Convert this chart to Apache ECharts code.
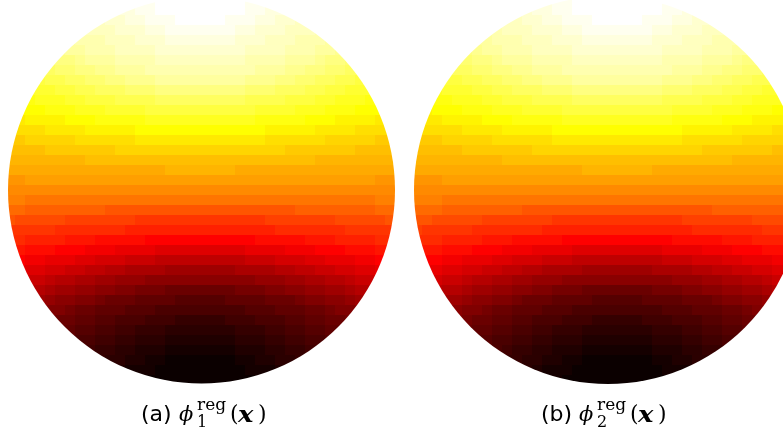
<!DOCTYPE html>
<html><head><meta charset="utf-8">
<script src="https://cdn.jsdelivr.net/npm/echarts@6/dist/echarts.min.js"></script>
<style>html,body{margin:0;padding:0;background:#fff}#c{width:783px;height:434px}</style>
</head><body><div id="c"></div>
<script>
// colour-level alphabet: index 0..63 of the 64-step "hot" colormap
const LEVELS = '0123456789abcdefghijklmnopqrstuvwxyzABCDEFGHIJKLMNOPQRSTUVWXYZ+*';

// panel labels
const panelTags = ['(a)', '(b)'];
const phiSubscripts = ['1', '2'];
const phiSuperscript = 'reg';

// field (a): one string per grid row (top to bottom), one char per cell, '.' = outside
const fieldA = [
".............++*********++.............",
"...........ZZ++*********++ZZ...........",
".........XYYZZ+++*****+++ZZYYX.........",
"........XXXYYYZZ+++++++ZZYYYXXXW.......",
"......VWWWXXXYYYZZZZZZZYYYXXXWWWV......",
".....UVVWWWXXXXYYYYYYYYYXXXXWWWVVU.....",
"....STTUVVVWWWWXXXXXXXXXWWWWVVVUTTS....",
"....RSSTTUUVVVWWWWWWWWWWWVVVUUTTSSRR...",
"...PQQRRSSTTUUUVVVVVVVVVUUUTTSSRRQQP...",
"..OOOPPQQRRRSSSTTTTTTTTTSSSRRRQQPPOOO..",
"..MNNNOOPPPQQQQRRRRRRRRRQQQQPPPOONNNMM.",
".LLLMMMNNNOOOOPPPPPPPPPPPOOOONNNMMMLLL.",
".JKKKKLLLMMMMMNNNNNNNNNNNMMMMMLLLKKKKJ.",
".IIIJJJJKKKKKLLLLLLLLLLLLLKKKKKJJJJIIII",
"GGHHHHHIIIIIIJJJJJJJJJJJJJIIIIIIHHHHHGG",
"FFFFGGGGGGGHHHHHHHHHHHHHHHHHGGGGGGGFFFF",
"EEEEEEEEFFFFFFFFFFFFFFFFFFFFFFFEEEEEEEE",
"DDDDDDDDDDDDDDDDEEEEEEEDDDDDDDDDDDDDDDD",
"BBCCCCCCCCCCCCCCCCCCCCCCCCCCCCCCCCCCCBB",
"AAAAAAAAAAAAAAAAAAAAAAAAAAAAAAAAAAAAAAA",
"zzyyyyyyyyyyyyyyyyyyyyyyyyyyyyyyyyyyyzz",
"xxwwwwwwwwvvvvvvvvvvvvvvvvvvvwwwwwwwwxx",
"vuuuuutttttttssssssssssssstttttttuuuuuv",
"sssssrrrrrrrqqqqqqqqqqqqqqqrrrrrrrsssss",
"rrqqqqpppooooonnnnnnnnnnnooooopppqqqqrr",
".pooonnnmmmllllkkkkkkkkkllllmmmnnnooopp",
".nmmlllkkjjjiiihhhhhhhhhiiijjjkklllmmn.",
".lkkjjiihhggffffeeeeeeeffffgghhiijjkkl.",
"..iihggffeedddcccccccccccdddeeffgghiij.",
"..ggfeeddccbbaaa9999999aaabbccddeefgg..",
"...edccbba9998888777778888999abbccde...",
"....bba9988877766666666677788899abbc...",
"....a99887766655544444555666778899a....",
".....88776655444333333344455667788.....",
"......766554433322222223334455667......",
"........544332221111111222334456.......",
".........433221100000001122334.........",
"...........21110000000001112...........",
".............1000000000001............."
];

// field (b)
const fieldB = [
".............Z++*********+............",
"...........YZZ++*********++Z..........",
".........XXYYZZ+++*****+++ZZYY........",
".......WWXXXYYYZZ+++++++ZZYYYXXX......",
"......VVWWWXXXYYYZZZZZZZYYYXXXWWW.....",
".....TUVVWWWXXXXYYYYYYYYYXXXXWWWVV....",
"....SSTTUVVVWWWWXXXXXXXXXWWWWVVVUTT...",
"...QRRSSTTUUVVVWWWWWWWWWWWVVVUUTTSSR..",
"...PPQQRRSSTTUUUVVVVVVVVVUUUTTSSRRQQ..",
"..NOOOPPQQRRRSSSTTTTTTTTTSSSRRRQQPPOO.",
"..MMNNNOOPPPQQQQRRRRRRRRRQQQQPPPOONNNM",
".KLLLMMMNNNOOOOPPPPPPPPPPPOOOONNNMMMLL",
".JJKKKKLLLMMMMMNNNNNNNNNNNMMMMMLLLKKKK",
".IIIIJJJJKKKKKLLLLLLLLLLLLLKKKKKJJJJII",
"GGGHHHHHIIIIIIJJJJJJJJJJJJJIIIIIIHHHHH",
"FFFFFGGGGGGGHHHHHHHHHHHHHHHHHGGGGGGGFF",
"EEEEEEEEEFFFFFFFFFFFFFFFFFFFFFFFEEEEEE",
"DDDDDDDDDDDDDDDDDEEEEEEEDDDDDDDDDDDDDD",
"BBBCCCCCCCCCCCCCCCCCCCCCCCCCCCCCCCCCCC",
"AAAAAAAAAAAAAAAAAAAAAAAAAAAAAAAAAAAAAA",
"zzzyyyyyyyyyyyyyyyyyyyyyyyyyyyyyyyyyyy",
"xxxwwwwwwwwvvvvvvvvvvvvvvvvvvvwwwwwwww",
"vvuuuuutttttttssssssssssssstttttttuuuu",
"tsssssrrrrrrrqqqqqqqqqqqqqqqrrrrrrrsss",
"rrrqqqqpppooooonnnnnnnnnnnooooopppqqqq",
".ppooonnnmmmllllkkkkkkkkkllllmmmnnnooo",
".nnmmlllkkjjjiiihhhhhhhhhiiijjjkklllmm",
".llkkjjiihhggffffeeeeeeeffffgghhiijjkk",
"..jiihggffeedddcccccccccccdddeeffgghii",
"..hggfeeddccbbaaa9999999aaabbccddeefg.",
"...eedccbba9998888777778888999abbccd..",
"...dcbba9988877766666666677788899abb..",
"....ba99887766655544444555666778899...",
".....98877665544433333334445566778....",
"......776655443332222222333445566.....",
".......6654433222111111122233445......",
".........443322110000000112233........",
"...........32111000000000111..........",
".............1100000000000............"
];

// ---- layout (pixel-space data coordinates) ----
const fields = [fieldA, fieldB];
const firstColX = [10, 417];
const cellSize = 10;
const diskCX = [201.5, 608];
const diskCY = [190, 190];
const diskR = [193.5, 194];

function hot(k) {
  const r = Math.min(1, (k + 1) / 24);
  const g = k < 24 ? 0 : Math.min(1, (k - 23) / 24);
  const b = k < 48 ? 0 : (k - 47) / 16;
  return 'rgb(' + Math.round(r * 255) + ',' + Math.round(g * 255) + ',' + Math.round(b * 255) + ')';
}

const cells = [];
fields.forEach(function (rows, d) {
  rows.forEach(function (row, j) {
    for (let i = 0; i < row.length; i++) {
      const k = LEVELS.indexOf(row[i]);
      if (k < 0) continue;
      cells.push([firstColX[d] + i * cellSize, j * cellSize, k, d]);
    }
  });
});

const half = cellSize / 2;
function renderItem(params, api) {
  const x = api.value(0), y = api.value(1), k = api.value(2), d = api.value(3);
  const a = api.coord([x - half, y - half]);
  const b = api.coord([x + half, y + half]);
  const c = api.coord([diskCX[d], diskCY[d]]);
  const rr = api.size([diskR[d], 0])[0];
  return {
    type: 'rect',
    shape: { x: Math.min(a[0], b[0]), y: Math.min(a[1], b[1]), width: Math.abs(b[0] - a[0]), height: Math.abs(b[1] - a[1]) },
    style: { fill: hot(k) },
    clipPath: { type: 'circle', shape: { cx: c[0], cy: c[1], r: rr } }
  };
}

const graphics = [];
const labelOffsets = [0, 400];
const SANS = '"DejaVu Sans", sans-serif';
const SERIF = '"DejaVu Serif", serif';
function txt(x, y, text, font, extra) {
  const el = { type: 'text', x: x, y: y, style: { text: text, font: font, fill: '#000', verticalAlign: 'middle' } };
  if (extra) Object.assign(el, extra);
  return el;
}
labelOffsets.forEach(function (off, p) {
  graphics.push(txt(141 + off, 415, panelTags[p], '22px ' + SANS));
  graphics.push(txt(179 + off, 416, '\u03D5', 'italic 21px ' + SERIF));
  graphics.push(txt(197 + off, 406, phiSuperscript, '17px ' + SERIF));
  graphics.push(txt(197 + off, 423, phiSubscripts[p], '16px ' + SERIF));
  graphics.push(txt(230 + off, 415, '(', '22px ' + SERIF));
  graphics.push(txt(238 + off, 416, 'x', 'italic bold 23px ' + SERIF, { scaleX: 1.12 }));
  graphics.push(txt(258 + off, 415, ')', '22px ' + SERIF));
});

const chart = echarts.init(document.getElementById('c'), null, { renderer: 'canvas' });
chart.setOption({
  animation: false,
  backgroundColor: '#fff',
  grid: { left: 0, right: 0, top: 0, bottom: 0 },
  xAxis: { type: 'value', min: 0, max: 783, show: false },
  yAxis: { type: 'value', min: 0, max: 434, inverse: true, show: false },
  series: [{
    type: 'custom',
    coordinateSystem: 'cartesian2d',
    dimensions: ['x', 'y', 'level', 'disk'],
    encode: { x: 0, y: 1 },
    data: cells,
    renderItem: renderItem,
    clip: false,
    silent: true
  }],
  graphic: graphics
});
</script>
</body></html>
